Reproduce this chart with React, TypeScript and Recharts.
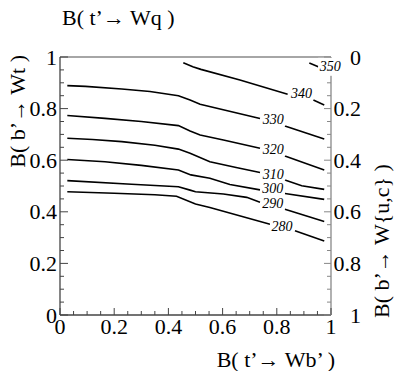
import React from 'react';
import { ComposedChart, Line, XAxis, YAxis, ReferenceDot } from 'recharts';

const FONT = "'Liberation Serif', 'Times New Roman', Times, 'Nimbus Roman', 'Nimbus Roman No9 L', FreeSerif, 'Noto Serif', 'DejaVu Serif', serif";

const axisTicks = [0, 0.05, 0.1, 0.15, 0.2, 0.25, 0.3, 0.35, 0.4, 0.45, 0.5, 0.55, 0.6, 0.65, 0.7, 0.75, 0.8, 0.85, 0.9, 0.95, 1];

// contour segments: [B(t'->Wb'), B(b'->Wt)]
const c280a = [[0.027, 0.478], [0.2, 0.472], [0.35, 0.466], [0.43, 0.46], [0.5, 0.43], [0.553, 0.417], [0.775, 0.352]];
const c280b = [[0.867, 0.327], [0.975, 0.287]];
const c290a = [[0.027, 0.521], [0.264, 0.507], [0.437, 0.497], [0.48, 0.484], [0.5, 0.478], [0.603, 0.469], [0.689, 0.456], [0.738, 0.437]];
const c290b = [[0.83, 0.41], [0.975, 0.362]];
const c300a = [[0.027, 0.603], [0.166, 0.594], [0.3, 0.58], [0.437, 0.562], [0.483, 0.543], [0.553, 0.53], [0.627, 0.506], [0.738, 0.485]];
const c300b = [[0.83, 0.471], [0.975, 0.448]];
const c310a = [[0.027, 0.685], [0.12, 0.68], [0.228, 0.672], [0.35, 0.658], [0.437, 0.643], [0.48, 0.627], [0.553, 0.594], [0.65, 0.572], [0.738, 0.552]];
const c310b = [[0.83, 0.523], [0.892, 0.501], [0.975, 0.487]];
const c320a = [[0.027, 0.773], [0.166, 0.762], [0.3, 0.75], [0.437, 0.734], [0.48, 0.713], [0.517, 0.698], [0.603, 0.678], [0.738, 0.646]];
const c320b = [[0.83, 0.616], [0.975, 0.562]];
const c330a = [[0.027, 0.889], [0.094, 0.886], [0.228, 0.876], [0.332, 0.866], [0.437, 0.85], [0.48, 0.833], [0.517, 0.817], [0.738, 0.762]];
const c330b = [[0.83, 0.733], [0.975, 0.682]];
const c340a = [[0.455, 0.978], [0.49, 0.962], [0.52, 0.952], [0.664, 0.911], [0.84, 0.856]];
const c340b = [[0.935, 0.833], [0.975, 0.814]];
const c350a = [[0.92, 0.977], [0.953, 0.962]];

const segments = [c280a, c280b, c290a, c290b, c300a, c300b, c310a, c310b, c320a, c320b, c330a, c330b, c340a, c340b, c350a];

const labelText = ['280', '290', '300', '310', '320', '330', '340', '350'];
const labelX = [0.819, 0.785, 0.785, 0.787, 0.787, 0.787, 0.891, 0.997];
const labelY = [0.342, 0.433, 0.489, 0.545, 0.64, 0.756, 0.859, 0.962];

const isMajor = (v: number) => Math.abs(v * 5 - Math.round(v * 5)) < 1e-6;
const fmt = (v: number) => String(Math.round(v * 100) / 100);

const DARK = '#444';
const GRAY = '#888';

const tickText = { fontSize: 22, fontFamily: FONT, fill: '#000' } as const;

const BottomTick = (p: any) => {
  const { x, y, payload } = p;
  const m = isMajor(payload.value);
  return (
    <g>
      <line x1={x} y1={y} x2={x} y2={y - (m ? 7 : 4)} stroke={DARK} strokeWidth={1} />
      {m && (
        <text x={x} y={y + 19} textAnchor="middle" style={tickText}>
          {fmt(payload.value)}
        </text>
      )}
    </g>
  );
};

const TopTick = (p: any) => {
  const { x, y, payload } = p;
  const m = isMajor(payload.value);
  return (
    <g>
      <line x1={x} y1={y} x2={x} y2={y + (m ? 7 : 4)} stroke={GRAY} strokeWidth={1} />
      {m && (
        <text x={x} y={y - 5} textAnchor="middle" style={tickText}>
          {fmt(payload.value)}
        </text>
      )}
    </g>
  );
};

const LeftTick = (p: any) => {
  const { x, y, payload } = p;
  const m = isMajor(payload.value);
  return (
    <g>
      <line x1={x} y1={y} x2={x + (m ? 8 : 4)} y2={y} stroke={DARK} strokeWidth={1} />
      {m && (
        <text x={x - 3} y={y + 7.5} textAnchor="end" style={tickText}>
          {fmt(payload.value)}
        </text>
      )}
    </g>
  );
};

const RightTick = (p: any) => {
  const { x, y, payload } = p;
  const m = isMajor(payload.value);
  return (
    <g>
      <line x1={x} y1={y} x2={x - (m ? 7 : 4)} y2={y} stroke={GRAY} strokeWidth={1} />
      {m && (
        <text x={x + 30} y={y + 7.5} textAnchor="end" style={tickText}>
          {fmt(payload.value)}
        </text>
      )}
    </g>
  );
};

const ContourLabel = (text: string, boxH: number) => (p: any) => {
  const { cx, cy } = p;
  return (
    <g>
      <rect x={cx - 12} y={cy - boxH / 2} width={24} height={boxH} fill="#fff" />
      <text
        x={cx}
        y={cy + 4.5}
        textAnchor="middle"
        style={{ fontSize: 14, fontStyle: 'italic', fontFamily: FONT, fill: '#000' }}
      >
        {text}
      </text>
    </g>
  );
};

const titleStyle = { fontSize: 22, fontFamily: FONT, fill: '#000' } as const;

export default function App() {
  return (
    <div style={{ position: 'absolute', left: 0, top: 0, fontFamily: FONT }}>
      <ComposedChart width={399} height={371} margin={{ top: 56, right: 67, bottom: 55, left: 59 }}>
        <XAxis
          xAxisId="b"
          dataKey="x"
          type="number"
          orientation="bottom"
          domain={[0, 1]}
          allowDataOverflow
          ticks={axisTicks}
          interval={0}
          height={1}
          tickSize={0}
          tickMargin={0}
          tickLine={false}
          axisLine={{ stroke: DARK, strokeWidth: 1.3 }}
          tick={BottomTick}
          label={{
            content: (p: any) => {
              const vb = p.viewBox;
              return (
                <text x={vb.x + vb.width + 4} y={vb.y + 52} textAnchor="end" style={titleStyle}>
                  B( t’→ Wb’ )
                </text>
              );
            },
          }}
        />
        <XAxis
          xAxisId="t"
          type="number"
          orientation="top"
          domain={[0, 1]}
          reversed
          allowDataOverflow
          ticks={axisTicks}
          interval={0}
          height={1}
          tickSize={0}
          tickMargin={0}
          tickLine={false}
          axisLine={{ stroke: GRAY, strokeWidth: 1.3 }}
          tick={TopTick}
          label={{
            content: (p: any) => {
              const vb = p.viewBox;
              return (
                <text x={vb.x + 2} y={vb.y + vb.height - 32} textAnchor="start" style={titleStyle}>
                  B( t’→ Wq )
                </text>
              );
            },
          }}
        />
        <YAxis
          yAxisId="l"
          type="number"
          orientation="left"
          domain={[0, 1]}
          allowDataOverflow
          ticks={axisTicks}
          interval={0}
          width={1}
          tickSize={0}
          tickMargin={0}
          tickLine={false}
          axisLine={{ stroke: DARK, strokeWidth: 1.3 }}
          tick={LeftTick}
          label={{
            content: (p: any) => {
              const vb = p.viewBox;
              const tx = vb.x + vb.width - 35;
              const ty = vb.y - 2;
              return (
                <text x={tx} y={ty} textAnchor="end" transform={`rotate(-90 ${tx} ${ty})`} style={titleStyle}>
                  B( b’→ Wt )
                </text>
              );
            },
          }}
        />
        <YAxis
          yAxisId="r"
          type="number"
          orientation="right"
          domain={[0, 1]}
          reversed
          allowDataOverflow
          ticks={axisTicks}
          interval={0}
          width={1}
          tickSize={0}
          tickMargin={0}
          tickLine={false}
          axisLine={{ stroke: GRAY, strokeWidth: 1.3 }}
          tick={RightTick}
          label={{
            content: (p: any) => {
              const vb = p.viewBox;
              const tx = vb.x + 58;
              const ty = vb.y + vb.height + 3;
              return (
                <text x={tx} y={ty} textAnchor="start" transform={`rotate(-90 ${tx} ${ty})`} style={titleStyle}>
                  B( b’→ W{'{'}u,c{'}'} )
                </text>
              );
            },
          }}
        />
        {segments.map((seg, i) => (
          <Line
            key={i}
            xAxisId="b"
            yAxisId="l"
            data={seg.map(([x, y]) => ({ x, y }))}
            dataKey="y"
            type="linear"
            stroke="#000"
            strokeWidth={1.6}
            dot={false}
            activeDot={false}
            isAnimationActive={false}
          />
        ))}
        {labelText.map((t, i) => (
          <ReferenceDot
            key={t}
            xAxisId="b"
            yAxisId="l"
            x={labelX[i]}
            y={labelY[i]}
            r={1}
            ifOverflow="visible"
            shape={ContourLabel(t, i === labelText.length - 1 ? 18 : 12)}
          />
        ))}
      </ComposedChart>
    </div>
  );
}
